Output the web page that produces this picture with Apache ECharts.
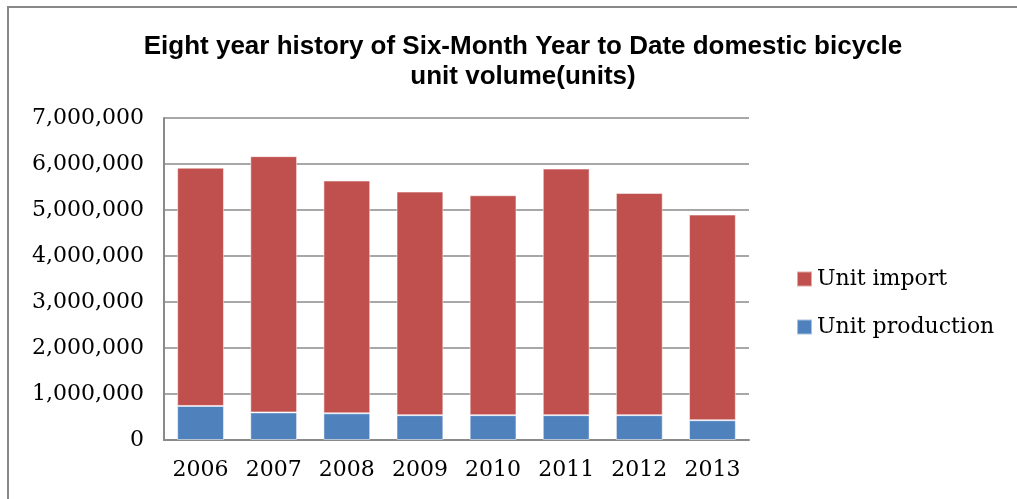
<!DOCTYPE html>
<html>
<head>
<meta charset="utf-8">
<script src="https://cdn.jsdelivr.net/npm/echarts@6/dist/echarts.min.js"></script>
<style>
    html, body { margin: 0; padding: 0; background: #fff; overflow: hidden; }
    #chart { width: 1017px; height: 499px; }
</style>
</head>
<body>
<div id="chart"></div>
<script>
    // data
    const years = ['2006', '2007', '2008', '2009', '2010', '2011', '2012', '2013'];
    const unitProduction = [740000, 600000, 580000, 540000, 540000, 540000, 540000, 430000];
    const unitImport = [5180000, 5570000, 5060000, 4860000, 4780000, 5360000, 4830000, 4470000];

    const myBar = echarts.init(document.getElementById('chart'));
    const serif = '"DejaVu Serif", serif';
    const optionBar = {
        backgroundColor: '#fff',
        animation: false,
        // chart frame: only the left and top edges are inside the picture
        graphic: [{
            type: 'polyline',
            shape: { points: [[8, 510], [8, 7], [1030, 7]] },
            style: { stroke: '#888', lineWidth: 2, fill: null }
        }],
        title: {
            text: 'Eight year history of Six-Month Year to Date domestic bicycle\nunit volume(units)',
            left: 518,
            textAlign: 'center',
            top: 27,
            textStyle: {
                fontFamily: '"Liberation Sans", Arial, sans-serif',
                fontWeight: 'bold',
                fontSize: 26,
                lineHeight: 30,
                color: '#000'
            }
        },
        legend: {
            orient: 'vertical',
            left: 791,
            top: 263,
            itemGap: 26,
            itemWidth: 15,
            itemHeight: 15,
            icon: 'rect',
            data: ['Unit import', 'Unit production'],
            textStyle: { fontFamily: serif, fontSize: 22, color: '#000' }
        },
        grid: { left: 164, right: 268, top: 118, bottom: 59 },
        xAxis: {
            type: 'category',
            data: years,
            axisLine: { lineStyle: { color: '#8a8a8a', width: 2 } },
            axisTick: { show: false },
            axisLabel: { fontFamily: serif, fontSize: 22, color: '#000', margin: 19 }
        },
        yAxis: {
            type: 'value',
            min: 0,
            max: 7000000,
            interval: 1000000,
            axisLine: { show: true, lineStyle: { color: '#8a8a8a', width: 2 } },
            axisTick: { show: false },
            splitLine: { lineStyle: { color: '#8a8a8a', width: 1.5 } },
            axisLabel: {
                fontFamily: serif, fontSize: 22, color: '#000', margin: 20,
                formatter: v => v.toLocaleString('en-US')
            }
        },
        series: [
            {
                name: 'Unit production',
                type: 'bar',
                stack: 'total',
                barWidth: '64%',
                data: unitProduction,
                itemStyle: { color: '#4F81BD', borderColor: 'rgba(255,255,255,0.5)', borderWidth: 1 }
            },
            {
                name: 'Unit import',
                type: 'bar',
                stack: 'total',
                barWidth: '64%',
                data: unitImport,
                itemStyle: { color: '#C0504D', borderColor: 'rgba(255,255,255,0.5)', borderWidth: 1 }
            }
        ]
    };
    myBar.setOption(optionBar);
</script>
</body>
</html>
